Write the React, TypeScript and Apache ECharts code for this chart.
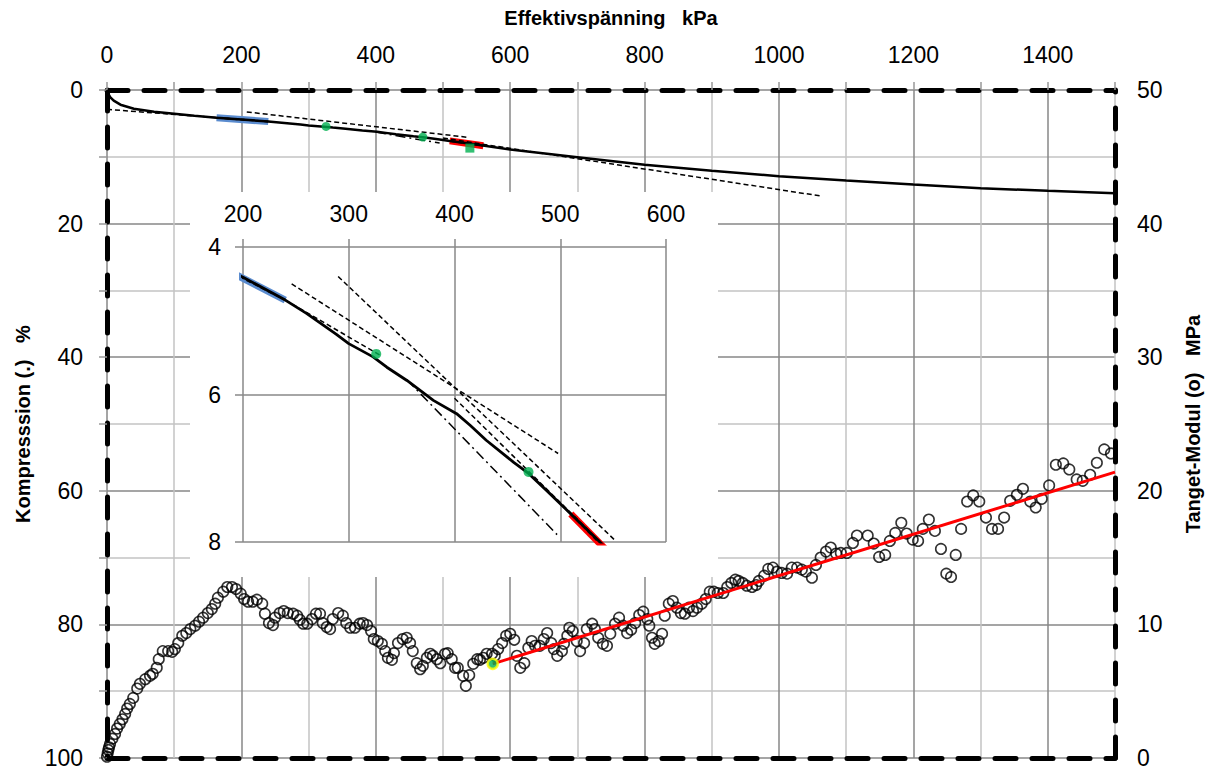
import React, { useEffect, useRef } from "react";
import * as echarts from "echarts";

// ---------- tick labels ----------
const topTickLabels = [0, 200, 400, 600, 800, 1000, 1200, 1400];
const leftTickLabels = [0, 20, 40, 60, 80, 100];
const rightTickLabels = [0, 10, 20, 30, 40, 50];
const insetXTickLabels = [200, 300, 400, 500, 600];
const insetYTickLabels = [4, 6, 8];

// ---------- compression curve (kPa, %) ----------
const compKPa = [0, 2, 5, 10, 20, 40, 70, 100, 130, 163, 200, 240, 260, 288, 300, 323, 336, 355, 380, 402, 415, 430, 456, 470, 487, 500, 510, 539, 600, 700, 800, 900, 1000, 1100, 1200, 1300, 1400, 1500];
const compPct = [0, 0.6, 1.1, 1.6, 2.2, 2.8, 3.25, 3.55, 3.85, 4.15, 4.41, 4.72, 4.9, 5.18, 5.31, 5.49, 5.63, 5.81, 6.08, 6.26, 6.42, 6.62, 6.92, 7.07, 7.3, 7.48, 7.62, 8.02, 8.9, 10.05, 11.2, 12.1, 12.9, 13.55, 14.15, 14.7, 15.1, 15.45];

// highlighted segments
const blueKPa = [163, 240];
const bluePct = [4.15, 4.72];
const redKPa = [510, 560];
const redPct = [7.62, 8.35];
const greenKPa = [326, 470];
const greenPct = [5.45, 7.05];
const greenSqKPa = [540];
const greenSqPct = [8.7];

// tangent lines in main chart
const mL1KPa = [0, 240];
const mL1Pct = [2.9, 4.72];
const mL2KPa = [208, 538];
const mL2Pct = [3.28, 7.1];
const mL3KPa = [500, 1061];
const mL3Pct = [7.2, 15.85];
const mDDKPa = [400, 495];
const mDDPct = [6.3, 7.95];

// tangent lines in inset
const iAKPa = [246, 498];
const iAPct = [4.5, 6.8];
const iBKPa = [290, 552];
const iBPct = [4.4, 7.98];
const iCKPa = [355, 497];
const iCPct = [5.8, 7.9];
const iDKPa = [240, 330];
const iDPct = [4.72, 5.47];
const iEKPa = [400, 545];
const iEPct = [6.05, 8.1];

// ---------- tangent modulus (kPa, MPa) ----------
const modKPa = [
  0, 1, 2, 3, 4.5, 8, 12, 15, 19, 23,
  27, 30, 34, 39, 45, 49, 57, 64, 68, 74,
  77, 83, 91, 97, 101, 106, 112, 118, 124, 131,
  137, 143, 150, 156, 161, 165, 173, 179, 186, 192,
  199, 204, 210, 217, 223, 231, 235, 241, 247, 250,
  257, 263, 269, 277, 283, 287, 292, 298, 305, 311,
  317, 321, 327, 332, 336, 344, 351, 356, 362, 369,
  376, 381, 387, 393, 397, 403, 409, 414, 418, 424,
  427, 433, 440, 446, 451, 455, 461, 466, 470, 476,
  481, 485, 491, 496, 503, 507, 513, 518, 522, 530,
  534, 539, 545, 551, 555, 560, 565, 573, 577, 582,
  588, 594, 600, 606, 610, 615, 621, 627, 632, 637,
  644, 650, 655, 661, 665, 670, 677, 680, 685, 688,
  693, 699, 704, 710, 714, 722, 726, 731, 738, 744,
  749, 756, 762, 768, 774, 780, 786, 792, 798, 804,
  807, 811, 815, 821, 826, 830, 836, 842, 848, 854,
  860, 866, 872, 878, 885, 891, 897, 903, 909, 917,
  923, 929, 935, 940, 946, 952, 960, 966, 970, 978,
  984, 991, 997, 1004, 1012, 1019, 1027, 1034, 1040, 1049,
  1055, 1062, 1070, 1077, 1085, 1092, 1101, 1110, 1116, 1132,
  1141, 1149, 1158, 1165, 1173, 1182, 1190, 1199, 1207, 1214,
  1223, 1232, 1241, 1249, 1256, 1263, 1271, 1280, 1289, 1298,
  1308, 1317, 1326, 1335, 1344, 1354, 1363, 1374, 1382, 1391,
  1402, 1412, 1423, 1432, 1443, 1452, 1463, 1473, 1484, 1494,
];
const modMPa = [
  0.1, 0.35, 0.6, 0.8, 1.05, 1.45, 1.8, 2.2, 2.55, 2.9,
  3.3, 3.7, 4.05, 4.5, 5.2, 5.55, 5.9, 6.15, 6.3, 6.75,
  7.4, 8.0, 8.0, 7.95, 8.15, 8.6, 9.15, 9.35, 9.65, 9.9,
  10.2, 10.5, 10.85, 11.15, 11.55, 12.0, 12.45, 12.8, 12.8, 12.65,
  12.3, 11.9, 11.7, 11.7, 11.85, 11.55, 10.8, 10.1, 9.95, 10.5,
  10.85, 11.0, 10.85, 10.8, 10.65, 10.35, 10.05, 10.05, 10.4, 10.8,
  10.8, 10.1, 9.8, 9.65, 10.4, 10.85, 10.65, 10.1, 9.75, 9.75,
  10.05, 10.1, 9.95, 9.5, 8.9, 8.75, 8.55, 8.0, 7.5, 7.35,
  7.85, 8.6, 8.9, 9.0, 8.6, 8.0, 7.1, 6.65, 6.9, 7.5,
  7.8, 7.65, 7.4, 7.1, 7.8, 7.85, 7.4, 6.75, 6.75, 6.15,
  5.4, 6.2, 7.05, 7.4, 7.35, 7.5, 7.8, 7.8, 7.65, 8.15,
  8.6, 9.15, 9.3, 8.85, 7.65, 6.75, 7.1, 8.25, 8.75, 8.4,
  8.4, 8.9, 9.35, 8.6, 8.15, 7.65, 8.0, 8.55, 9.15, 9.75,
  9.5, 8.75, 8.0, 8.6, 9.65, 10.05, 9.65, 9.0, 8.55, 8.4,
  9.3, 10.05, 10.5, 9.9, 9.35, 9.6, 10.1, 10.7, 10.95, 10.4,
  9.9, 9.0, 8.55, 8.75, 9.3, 10.65, 11.55, 11.75, 11.25, 10.85,
  10.8, 11.25, 11.0, 11.25, 11.55, 11.9, 12.45, 12.45, 12.35, 12.35,
  12.8, 13.1, 13.35, 13.25, 13.1, 12.9, 12.8, 12.95, 13.25, 13.65,
  14.15, 14.25, 13.95, 13.85, 13.8, 14.25, 14.25, 14.1, 13.95, 13.5,
  14.45, 15.0, 15.45, 15.75, 15.3, 15.35, 15.35, 16.1, 16.65, 16.65,
  16.05, 15.05, 15.2, 16.25, 16.85, 17.6, 16.8, 16.35, 16.25, 17.15,
  17.85, 17.0, 15.65, 13.8, 13.55, 15.2, 17.15, 19.2, 19.65, 19.2,
  18.0, 17.15, 17.15, 18.0, 19.25, 19.7, 20.15, 19.2, 18.75, 19.4,
  20.4, 21.95, 22.05, 21.6, 20.85, 20.75, 21.2, 22.1, 23.1, 22.8,
];

// red fit line & start point (kPa, MPa)
const fitKPa = [574, 1500];
const fitMPa = [7.05, 21.4];
const startKPa = [574];
const startMPa = [7.05];

const FONT = "Liberation Sans";

const pairs = (xs: number[], ys: number[]) => xs.map((x, i) => [x, ys[i]]);

export default function App() {
  const ref = useRef<HTMLDivElement>(null);

  useEffect(() => {
    if (!ref.current) return;
    const chart = echarts.init(ref.current, null, { renderer: "svg" });

    const lbl = { fontFamily: FONT, fontSize: 23, color: "#000" };
    const nameStyle = { fontFamily: FONT, fontSize: 20, fontWeight: "bold" as const, color: "#000" };
    const dashedAxis = {
      show: true,
      onZero: false,
      lineStyle: { color: "#000", width: 5, type: [21, 16] as any },
    };
    const tick = { show: true, length: 8, lineStyle: { color: "#999", width: 1.5 } };
    const gridColors = ["#878787", "#c3c3c3"];

    const mainLine = (xs: number[], ys: number[], style: any, z = 3) => ({
      type: "line",
      xAxisIndex: 0,
      yAxisIndex: 0,
      data: pairs(xs, ys),
      showSymbol: false,
      symbol: "none",
      lineStyle: style,
      z,
      silent: true,
    });
    const insetLine = (xs: number[], ys: number[], style: any, z = 7) => ({
      type: "line",
      xAxisIndex: 2,
      yAxisIndex: 2,
      data: pairs(xs, ys),
      showSymbol: false,
      symbol: "none",
      lineStyle: style,
      z,
      silent: true,
    });

    const dashed = { color: "#000", width: 1.5, type: [5, 3] };
    const dashDot = { color: "#000", width: 1.5, type: [10, 4, 2, 4] };
    const curveStyle = { color: "#000", width: 2.5 };
    const insetCurveStyle = { color: "#000", width: 2.8 };
    const blueStyle = { color: "#5b8ccf", width: 7 };
    const redStyle = { color: "#ff0000", width: 7 };
    const overlayDash = { color: "#000", width: 1.8, type: [5, 3] };

    const option: any = {
      animation: false,
      backgroundColor: "#fff",
      grid: [
        { left: 107, right: 108, top: 90, bottom: 16 },
        { left: 243, top: 247, width: 423, height: 295 },
      ],
      graphic: [
        {
          type: "rect",
          shape: { x: 190, y: 192, width: 528, height: 385 },
          style: { fill: "#fff" },
          z: 1,
          silent: true,
        },
      ],
      xAxis: [
        {
          gridIndex: 0,
          type: "value",
          position: "top",
          min: 0,
          max: 1500,
          interval: 100,
          name: "Effektivspänning   kPa",
          nameLocation: "middle",
          nameGap: 62,
          nameTextStyle: nameStyle,
          axisLine: dashedAxis,
          axisTick: tick,
          axisLabel: {
            ...lbl,
            margin: 24,
            formatter: (v: number) => (topTickLabels.includes(v) ? String(v) : ""),
          },
          splitLine: { show: true, lineStyle: { color: gridColors, width: 1.5 } },
        },
        {
          gridIndex: 0,
          type: "value",
          position: "bottom",
          min: 0,
          max: 1500,
          interval: 100,
          axisLine: dashedAxis,
          axisTick: { show: false },
          axisLabel: { show: false },
          splitLine: { show: false },
        },
        {
          gridIndex: 1,
          type: "value",
          position: "top",
          min: 200,
          max: 600,
          interval: 100,
          z: 5,
          axisLine: { show: false },
          axisTick: { show: true, length: 8, lineStyle: { color: "#888", width: 1.5 } },
          axisLabel: {
            ...lbl,
            margin: 22,
            formatter: (v: number) => (insetXTickLabels.includes(v) ? String(v) : ""),
          },
          splitLine: { show: true, lineStyle: { color: "#888", width: 1.5 } },
        },
      ],
      yAxis: [
        {
          gridIndex: 0,
          type: "value",
          position: "left",
          inverse: true,
          min: 0,
          max: 100,
          interval: 10,
          name: "Kompresssion (.)   %",
          nameLocation: "middle",
          nameGap: 74,
          nameRotate: 90,
          nameTextStyle: nameStyle,
          axisLine: dashedAxis,
          axisTick: tick,
          axisLabel: {
            ...lbl,
            margin: 24,
            formatter: (v: number) => (leftTickLabels.includes(v) ? String(v) : ""),
          },
          splitLine: { show: true, lineStyle: { color: gridColors, width: 1.5 } },
        },
        {
          gridIndex: 0,
          type: "value",
          position: "right",
          min: 0,
          max: 50,
          interval: 10,
          name: "Tanget-Modul (o)   MPa",
          nameLocation: "middle",
          nameGap: 68,
          nameRotate: 90,
          nameTextStyle: nameStyle,
          axisLine: dashedAxis,
          axisTick: { show: false },
          axisLabel: {
            ...lbl,
            margin: 22,
            formatter: (v: number) => (rightTickLabels.includes(v) ? String(v) : ""),
          },
          splitLine: { show: false },
        },
        {
          gridIndex: 1,
          type: "value",
          inverse: true,
          min: 4,
          max: 8,
          interval: 2,
          z: 5,
          axisLine: { show: false },
          axisTick: { show: true, length: 8, lineStyle: { color: "#888", width: 1.5 } },
          axisLabel: {
            ...lbl,
            margin: 22,
            formatter: (v: number) => (insetYTickLabels.includes(v) ? String(v) : ""),
          },
          splitLine: { show: true, lineStyle: { color: "#888", width: 1.5 } },
        },
      ],
      series: [
        // ---- main compression chart ----
        mainLine(blueKPa, bluePct, blueStyle, 3),
        mainLine(redKPa, redPct, redStyle, 3),
        mainLine(compKPa, compPct, curveStyle, 4),
        mainLine(blueKPa, bluePct, overlayDash, 5),
        mainLine(redKPa, redPct, overlayDash, 5),
        mainLine(mL1KPa, mL1Pct, dashed, 5),
        mainLine(mL2KPa, mL2Pct, dashed, 5),
        mainLine(mL3KPa, mL3Pct, dashed, 5),
        mainLine(mDDKPa, mDDPct, dashDot, 5),
        {
          type: "scatter",
          xAxisIndex: 0,
          yAxisIndex: 0,
          data: pairs(greenKPa, greenPct),
          symbol: "circle",
          symbolSize: 9,
          itemStyle: { color: "#00b050" },
          z: 6,
          silent: true,
        },
        {
          type: "scatter",
          xAxisIndex: 0,
          yAxisIndex: 0,
          data: pairs(greenSqKPa, greenSqPct),
          symbol: "rect",
          symbolSize: 9,
          itemStyle: { color: "#00b050" },
          z: 6,
          silent: true,
        },
        // ---- tangent modulus ----
        {
          type: "scatter",
          xAxisIndex: 0,
          yAxisIndex: 1,
          data: pairs(modKPa, modMPa),
          symbol: "circle",
          symbolSize: 10.5,
          itemStyle: { color: "rgba(255,255,255,0)", borderColor: "#000", borderWidth: 1.6 },
          z: 3,
          silent: true,
        },
        {
          type: "line",
          xAxisIndex: 0,
          yAxisIndex: 1,
          data: pairs(fitKPa, fitMPa),
          showSymbol: false,
          symbol: "none",
          lineStyle: { color: "#ff0000", width: 3 },
          z: 4,
          silent: true,
        },
        {
          type: "scatter",
          xAxisIndex: 0,
          yAxisIndex: 1,
          data: pairs(startKPa, startMPa),
          symbol: "circle",
          symbolSize: 10,
          itemStyle: { color: "#00b050", borderColor: "#ffff00", borderWidth: 2.5 },
          z: 6,
          silent: true,
        },
        // ---- inset ----
        insetLine(blueKPa, bluePct, blueStyle, 6),
        insetLine(redKPa, redPct, redStyle, 6),
        insetLine(compKPa, compPct, insetCurveStyle, 7),
        insetLine(blueKPa, bluePct, overlayDash, 8),
        insetLine(redKPa, redPct, overlayDash, 8),
        insetLine(iAKPa, iAPct, dashed, 8),
        insetLine(iBKPa, iBPct, dashed, 8),
        insetLine(iCKPa, iCPct, dashDot, 8),
        insetLine(iDKPa, iDPct, dashed, 8),
        insetLine(iEKPa, iEPct, dashed, 8),
        {
          type: "scatter",
          xAxisIndex: 2,
          yAxisIndex: 2,
          data: pairs(greenKPa, greenPct),
          symbol: "circle",
          symbolSize: 10,
          itemStyle: { color: "#00b050" },
          z: 9,
          silent: true,
        },
      ],
    };

    chart.setOption(option);
    return () => chart.dispose();
  }, []);

  return (
    <div
      ref={ref}
      style={{ position: "fixed", left: 0, top: 0, width: 1223, height: 774, background: "#fff" }}
    />
  );
}
